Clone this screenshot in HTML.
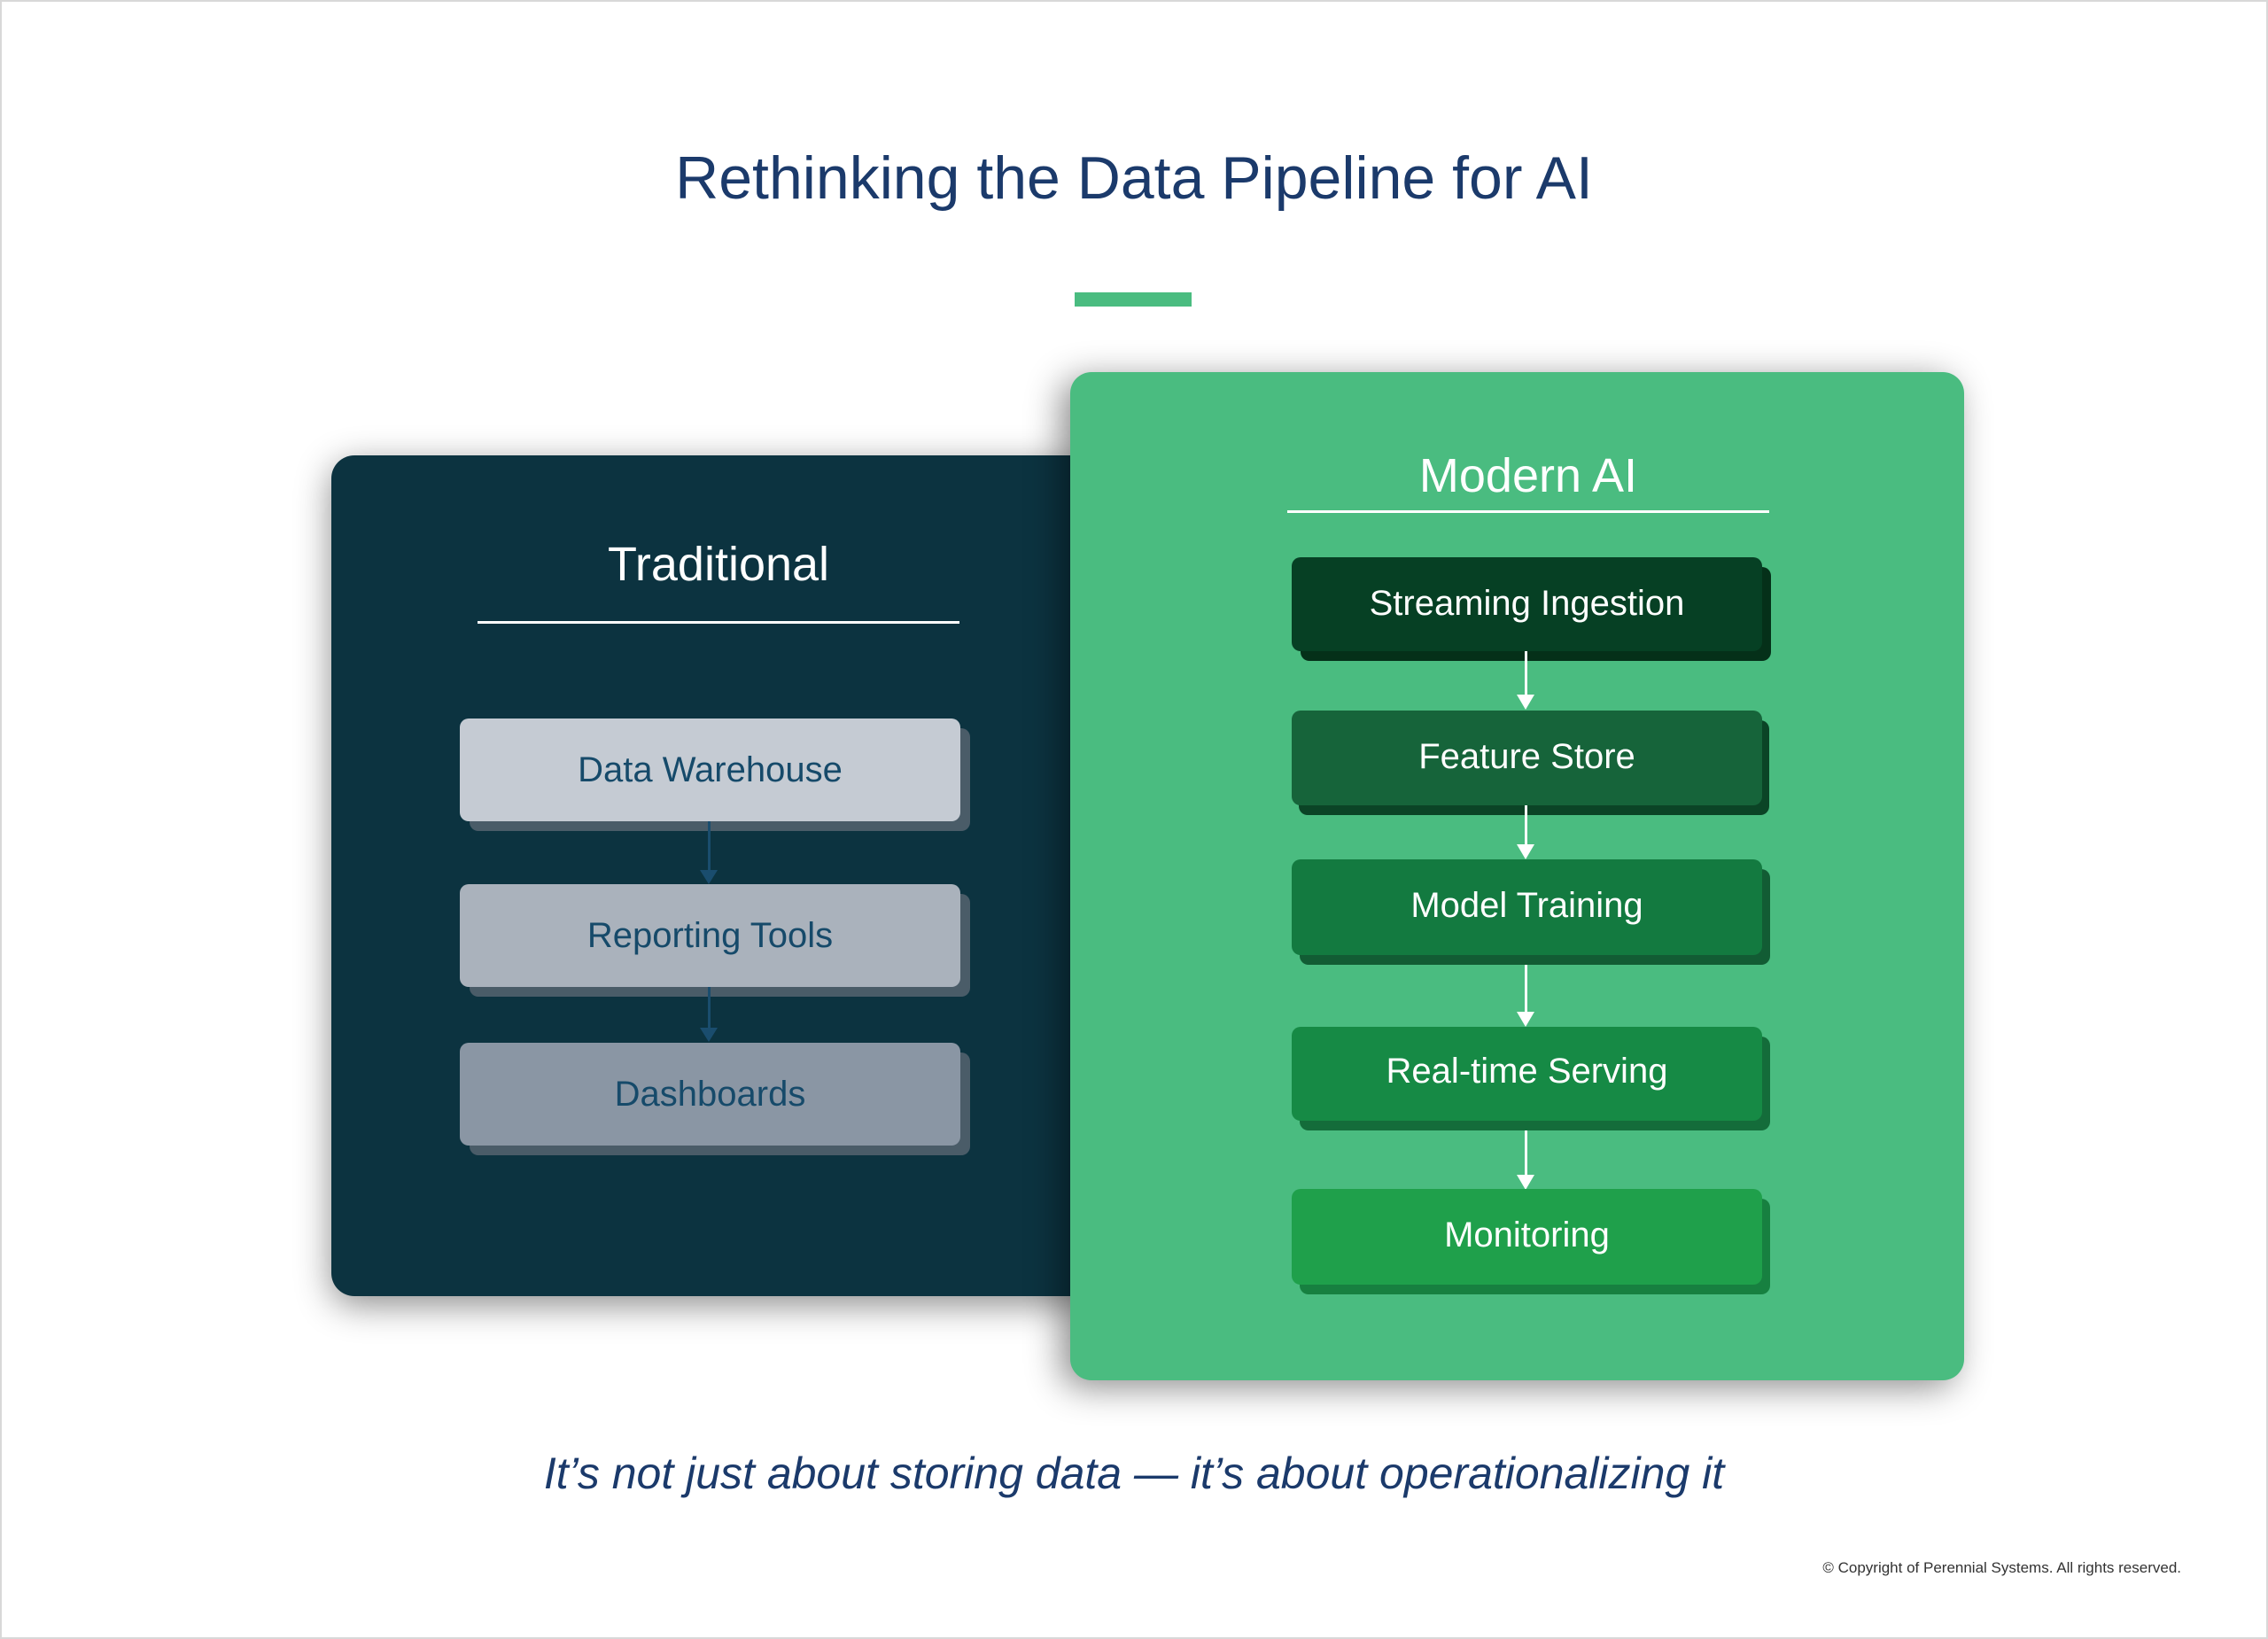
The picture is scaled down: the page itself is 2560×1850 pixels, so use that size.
<!DOCTYPE html>
<html><head><meta charset="utf-8"><style>
*{margin:0;padding:0;box-sizing:border-box}
body{width:2560px;height:1850px;background:#fff;position:relative;overflow:hidden;font-family:"Liberation Sans",sans-serif}
.frame{position:absolute;left:0;top:0;width:2560px;height:1850px;border:2px solid #d8d8d8}
.abs{position:absolute}
.title{left:0;width:2560px;top:162px;text-align:center;font-size:68px;color:#1b3a6b}
.bar{left:1213px;top:330px;width:132px;height:16px;background:#4abc80}
.dark{left:374px;top:514px;width:860px;height:949px;background:#0c3340;border-radius:26px;box-shadow:0 10px 40px rgba(0,0,0,.45)}
.green{left:1208px;top:420px;width:1009px;height:1138px;background:#4abc80;border-radius:24px;box-shadow:-10px 8px 40px rgba(0,0,0,.45)}
.h{text-align:center;color:#fff;font-size:54px}
.line{height:3px;background:#fff}
.box{position:absolute;border-radius:10px;text-align:center;font-size:40px}
.sh{position:absolute;border-radius:10px}
.arrow{position:absolute;width:3px}
.tri{position:absolute;width:0;height:0;border-left:10px solid transparent;border-right:10px solid transparent}
.tag{left:0;width:2560px;top:1634px;text-align:center;font-size:50px;font-style:italic;color:#1b3a6b}
.copy{right:98px;top:1760px;font-size:17px;color:#333}
</style></head><body>
<div class="frame"></div>
<div class="abs title">Rethinking the Data Pipeline for AI</div>
<div class="abs bar"></div>
<div class="abs dark"></div>
<div class="abs green"></div>

<div class="abs h" style="left:539px;width:544px;top:606px">Traditional</div>
<div class="abs line" style="left:539px;width:544px;top:701px"></div>

<div class="sh" style="left:530px;top:822px;width:565px;height:116px;background:#4a5c68"></div>
<div class="box" style="left:519px;top:811px;width:565px;height:116px;line-height:116px;background:#c5cbd3;color:#164a6a">Data Warehouse</div>
<div class="arrow" style="left:799px;top:927px;height:60px;background:#1a4d6e"></div>
<div class="tri" style="left:790px;top:982px;border-top:16px solid #1a4d6e"></div>

<div class="sh" style="left:530px;top:1009px;width:565px;height:116px;background:#4a5c68"></div>
<div class="box" style="left:519px;top:998px;width:565px;height:116px;line-height:116px;background:#aab2bc;color:#164a6a">Reporting Tools</div>
<div class="arrow" style="left:799px;top:1114px;height:50px;background:#1a4d6e"></div>
<div class="tri" style="left:790px;top:1160px;border-top:16px solid #1a4d6e"></div>

<div class="sh" style="left:530px;top:1188px;width:565px;height:116px;background:#4a5c68"></div>
<div class="box" style="left:519px;top:1177px;width:565px;height:116px;line-height:116px;background:#8a96a4;color:#164a6a">Dashboards</div>

<div class="abs h" style="left:1453px;width:544px;top:506px">Modern AI</div>
<div class="abs line" style="left:1453px;width:544px;top:576px"></div>

<div class="sh" style="left:1468px;top:640px;width:531px;height:106px;background:#053019"></div>
<div class="box" style="left:1458px;top:629px;width:531px;height:106px;line-height:104px;background:#064024;color:#fff">Streaming Ingestion</div>
<div class="arrow" style="left:1721px;top:735px;height:55px;background:#fff"></div>
<div class="tri" style="left:1712px;top:784px;border-top:17px solid #fff"></div>

<div class="sh" style="left:1466px;top:813px;width:531px;height:107px;background:#0b4426"></div>
<div class="box" style="left:1458px;top:802px;width:531px;height:107px;line-height:105px;background:#16643a;color:#fff">Feature Store</div>
<div class="arrow" style="left:1721px;top:909px;height:50px;background:#fff"></div>
<div class="tri" style="left:1712px;top:953px;border-top:17px solid #fff"></div>

<div class="sh" style="left:1467px;top:981px;width:531px;height:108px;background:#125c34"></div>
<div class="box" style="left:1458px;top:970px;width:531px;height:108px;line-height:104px;background:#137a40;color:#fff">Model Training</div>
<div class="arrow" style="left:1721px;top:1089px;height:60px;background:#fff"></div>
<div class="tri" style="left:1712px;top:1142px;border-top:17px solid #fff"></div>

<div class="sh" style="left:1467px;top:1170px;width:531px;height:106px;background:#146c3a"></div>
<div class="box" style="left:1458px;top:1159px;width:531px;height:106px;line-height:100px;background:#168a45;color:#fff">Real-time Serving</div>
<div class="arrow" style="left:1721px;top:1276px;height:56px;background:#fff"></div>
<div class="tri" style="left:1712px;top:1326px;border-top:17px solid #fff"></div>

<div class="sh" style="left:1467px;top:1353px;width:531px;height:108px;background:#178040"></div>
<div class="box" style="left:1458px;top:1342px;width:531px;height:108px;line-height:104px;background:#1fa04b;color:#fff">Monitoring</div>

<div class="abs tag">It’s not just about storing data — it’s about operationalizing it</div>
<div class="abs copy">© Copyright of Perennial Systems. All rights reserved.</div>
</body></html>
